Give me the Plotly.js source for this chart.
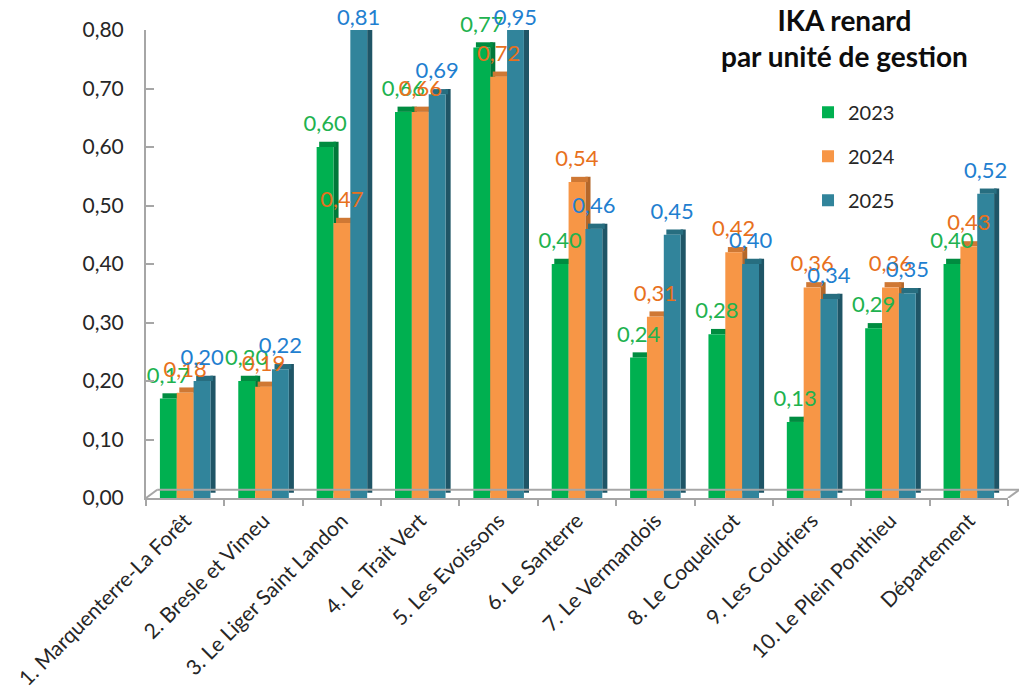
<!DOCTYPE html>
<html>
<head>
<meta charset="utf-8">
<script src="https://cdn.plot.ly/plotly-3.0.1.min.js"></script>
<style>
  body { margin: 0; background: white; }
  #graph { width: 1019px; height: 700px; }
</style>
</head>
<body>
<div id="graph"></div>
<script>
// unités de gestion
var units = ['1. Marquenterre-La Forêt', '2. Bresle et Vimeu', '3. Le Liger Saint Landon',
  '4. Le Trait Vert', '5. Les Evoissons', '6. Le Santerre', '7. Le Vermandois',
  '8. Le Coquelicot', '9. Les Coudriers', '10. Le Plein Ponthieu', 'Département'];

// IKA per year
var ika2023 = [0.17, 0.20, 0.60, 0.66, 0.77, 0.40, 0.24, 0.28, 0.13, 0.29, 0.40];
var ika2024 = [0.18, 0.19, 0.47, 0.66, 0.72, 0.54, 0.31, 0.42, 0.36, 0.36, 0.43];
var ika2025 = [0.20, 0.22, 0.81, 0.69, 0.95, 0.46, 0.45, 0.40, 0.34, 0.35, 0.52];

var years = ['2023', '2024', '2025'];
var series = [ika2023, ika2024, ika2025];

var yTicks = [0, 0.1, 0.2, 0.3, 0.4, 0.5, 0.6, 0.7, 0.8];

// colours: front face, side face, top face, label
var front = ['#00B050', '#F79646', '#31849B'];
var side  = ['#00783A', '#B4672A', '#1F5566'];
var top_  = ['#008C40', '#CF7834', '#276E80'];
var labelCol = ['#21B24F', '#E8711D', '#1F80D0'];

var yMax = 0.8;
var w = 0.215;     // bar width (x units)
var depth = 0.065; // fake 3D depth
var lift = 0.009;
var labelPad = 0.018; // labels float a bit above the bar top

var FONT = 'Lato, "Open Sans", sans-serif';

var pos = units.map(function (u, i) { return i; });

function fmt(v) { return v.toFixed(2).replace('.', ','); }

var data = [];

// side faces and top faces first so the fronts sit on top
series.forEach(function (vals, k) {
  data.push({
    type: 'bar',
    x: pos,
    y: vals,
    base: lift,
    offset: -1.5 * w + k * w + w,
    width: depth,
    marker: {color: side[k]},
    showlegend: false,
    hoverinfo: 'skip'
  });
  data.push({
    type: 'bar',
    x: pos,
    y: vals.map(function () { return lift; }),
    base: vals,
    offset: -1.5 * w + k * w + depth / 2,
    width: w,
    marker: {color: top_[k]},
    showlegend: false,
    hoverinfo: 'skip'
  });
});

series.forEach(function (vals, k) {
  data.push({
    type: 'bar',
    name: years[k],
    x: pos,
    y: vals,
    offset: -1.5 * w + k * w,
    width: w,
    marker: {color: front[k]},
    legendgroup: years[k]
  });
});

// value labels, capped at the top of the axis like the clipped bars
series.forEach(function (vals, k) {
  data.push({
    type: 'scatter',
    mode: 'text',
    x: pos.map(function (p) { return p - w + k * w; }),
    y: vals.map(function (v) { return Math.min(v + labelPad, yMax); }),
    text: vals.map(fmt),
    textposition: 'top center',
    textfont: {family: FONT, size: 22, color: labelCol[k]},
    cliponaxis: false,
    showlegend: false,
    hoverinfo: 'skip'
  });
});

var layout = {
  width: 1019,
  height: 700,
  margin: {l: 146, r: 11, t: 30, b: 202},
  paper_bgcolor: 'white',
  plot_bgcolor: 'white',
  separators: ',.',
  barmode: 'overlay',
  font: {family: FONT, color: '#262626'},
  showlegend: true,
  legend: {
    x: 0.768, y: 0.866, xanchor: 'left', yanchor: 'top',
    font: {size: 20, color: '#262626'},
    tracegroupgap: 15,
    traceorder: 'grouped',
    itemwidth: 30
  },
  xaxis: {
    range: [-0.5, 10.5],
    tickvals: pos,
    ticktext: units,
    tickangle: -45,
    ticks: '',
    tickfont: {size: 21, color: '#262626'},
    showgrid: false,
    zeroline: false,
    showline: true,
    linecolor: '#A6A6A6',
    linewidth: 2,
    minor: {ticks: 'outside', tick0: -0.5, dtick: 1, ticklen: 6, tickcolor: '#A6A6A6', tickwidth: 2, showgrid: false}
  },
  yaxis: {
    range: [0, yMax],
    tickvals: yTicks,
    tickformat: '.2f',
    ticks: 'inside',
    ticklen: 8,
    tickcolor: '#A6A6A6',
    tickwidth: 2,
    ticklabelstandoff: 16,
    tickfont: {size: 21, color: '#262626'},
    showgrid: false,
    zeroline: false,
    showline: true,
    linecolor: '#A6A6A6',
    linewidth: 2
  },
  shapes: [
    // floor of the 3D box
    {type: 'line', xref: 'paper', yref: 'y', x0: 0, x1: 0.013, y0: 0, y1: 0.014,
      line: {color: '#A6A6A6', width: 2}},
    {type: 'line', xref: 'paper', yref: 'y', x0: 0.013, x1: 1.013, y0: 0.014, y1: 0.014,
      line: {color: '#A6A6A6', width: 2}},
    {type: 'line', xref: 'paper', yref: 'y', x0: 1, x1: 1.013, y0: 0, y1: 0.014,
      line: {color: '#A6A6A6', width: 2}}
  ],
  annotations: [{
    xref: 'paper', yref: 'paper',
    x: 0.81, y: 1.062, xanchor: 'center', yanchor: 'top',
    text: '<b>IKA renard<br>par unité de gestion</b>',
    showarrow: false,
    font: {size: 28, color: '#0D0D0D'}
  }]
};

Plotly.newPlot('graph', data, layout, {displayModeBar: false});
</script>
</body>
</html>
